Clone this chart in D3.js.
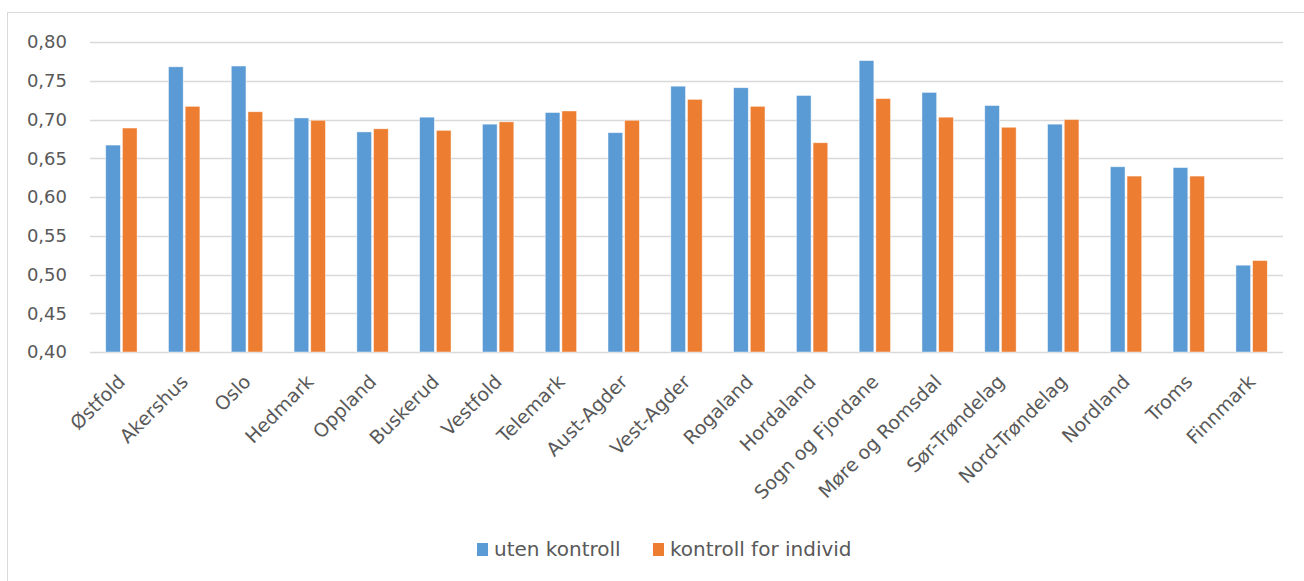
<!DOCTYPE html>
<html>
<head>
<meta charset="utf-8">
<script src="https://cdn.jsdelivr.net/npm/d3@7"></script>
<style>
  body { margin: 0; background: #fff; }
  text { font-family: "DejaVu Sans", sans-serif; fill: #595959; }
</style>
</head>
<body>
<div id="chart"></div>
<script>
const fylker = ['Østfold', 'Akershus', 'Oslo', 'Hedmark', 'Oppland', 'Buskerud', 'Vestfold',
  'Telemark', 'Aust-Agder', 'Vest-Agder', 'Rogaland', 'Hordaland', 'Sogn og Fjordane',
  'Møre og Romsdal', 'Sør-Trøndelag', 'Nord-Trøndelag', 'Nordland', 'Troms', 'Finnmark'];
const utenKontroll = [0.667, 0.768, 0.769, 0.702, 0.684, 0.703, 0.694, 0.709, 0.683, 0.743,
  0.741, 0.731, 0.776, 0.735, 0.718, 0.694, 0.639, 0.638, 0.512];
const kontrollIndivid = [0.689, 0.717, 0.710, 0.699, 0.688, 0.686, 0.697, 0.711, 0.699, 0.726,
  0.717, 0.670, 0.727, 0.703, 0.690, 0.700, 0.627, 0.627, 0.518];
const yTicks = [0.40, 0.45, 0.50, 0.55, 0.60, 0.65, 0.70, 0.75, 0.80];
const seriesNames = ['uten kontroll', 'kontroll for individ'];
const colors = ['#5b9bd5', '#ed7d31'];

const width = 1304, height = 581;
const margin = { top: 42, right: 21, bottom: 229, left: 90 };

const svg = d3.select('#chart').append('svg')
  .attr('width', width)
  .attr('height', height);

// outer chart border
svg.append('rect')
  .attr('x', 7.5).attr('y', 12.5)
  .attr('width', 1310).attr('height', 590)
  .attr('fill', 'none')
  .attr('stroke', '#d9d9d9');

const x = d3.scaleBand()
  .domain(fylker)
  .range([margin.left, width - margin.right])
  .paddingInner(0.5)
  .paddingOuter(0.25);

const xSub = d3.scaleBand()
  .domain([0, 1])
  .range([0, x.bandwidth()])
  .paddingInner(0.12);

const y = d3.scaleLinear()
  .domain([0.40, 0.80])
  .range([height - margin.bottom, margin.top]);

const fmt = d => d3.format('.2f')(d).replace('.', ',');

// gridlines
svg.append('g')
  .selectAll('line')
  .data(yTicks)
  .join('line')
  .attr('x1', margin.left)
  .attr('x2', width - margin.right)
  .attr('y1', d => Math.round(y(d)) + 0.5)
  .attr('y2', d => Math.round(y(d)) + 0.5)
  .attr('stroke', '#d9d9d9')
  .attr('stroke-width', 1.5);

// y labels
const yAxis = svg.append('g')
  .attr('transform', `translate(${margin.left},0)`)
  .call(d3.axisLeft(y).tickValues(yTicks).tickFormat(fmt).tickSize(0).tickPadding(23));
yAxis.select('.domain').remove();
yAxis.selectAll('text')
  .style('font-size', '18px')
  .attr('fill', '#595959');

// bars
const groups = svg.append('g')
  .selectAll('g')
  .data(fylker)
  .join('g')
  .attr('transform', d => `translate(${x(d)},0)`);

groups.selectAll('rect')
  .data((d, i) => [utenKontroll[i], kontrollIndivid[i]])
  .join('rect')
  .attr('x', (d, j) => xSub(j))
  .attr('width', xSub.bandwidth())
  .attr('y', d => y(d))
  .attr('height', d => y(0.40) - y(d))
  .attr('fill', (d, j) => colors[j])
  .attr('stroke', '#fff')
  .attr('stroke-opacity', 0.6)
  .attr('stroke-width', 0.75);

// x labels
const xAxis = svg.append('g')
  .attr('transform', `translate(0,${y(0.40)})`)
  .call(d3.axisBottom(x).tickSize(0).tickPadding(0));
xAxis.select('.domain').remove();
xAxis.selectAll('text')
  .style('font-size', '19px')
  .attr('fill', '#595959')
  .attr('text-anchor', 'end')
  .attr('dy', 0)
  .attr('transform', 'translate(5,31) rotate(-45)');

// legend
const legend = svg.append('g')
  .attr('transform', 'translate(477,543)');
const legendX = [0, 176];
seriesNames.forEach((name, i) => {
  const item = legend.append('g').attr('transform', `translate(${legendX[i]},0)`);
  item.append('rect')
    .attr('width', 11).attr('height', 13)
    .attr('fill', colors[i]);
  item.append('text')
    .attr('x', 17).attr('y', 13)
    .style('font-size', '20px')
    .text(name);
});
</script>
</body>
</html>
